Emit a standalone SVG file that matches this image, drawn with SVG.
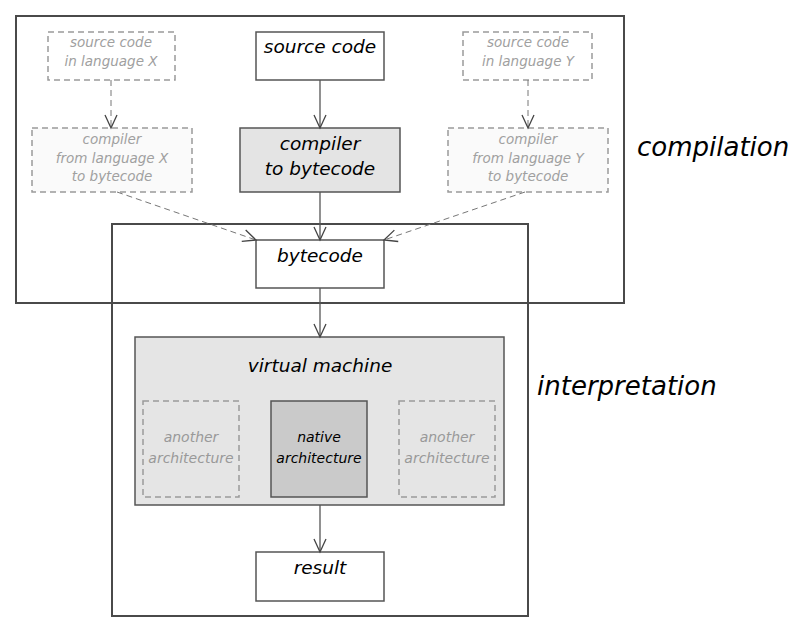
<svg xmlns="http://www.w3.org/2000/svg" width="800" height="624" viewBox="0 0 800 624">
<defs>
<marker id="arr" markerUnits="userSpaceOnUse" markerWidth="20" markerHeight="20" viewBox="-16 -10 20 20" refX="0" refY="0" orient="auto">
<path d="M-13,-6 L0,0 L-13,6" fill="none" stroke="#444" stroke-width="1.3"/>
</marker>
</defs>
<style>
text{font-family:"DejaVu Sans","Verdana",sans-serif;font-style:italic;text-anchor:middle}
.main{font-size:18.5px;fill:#000}
.gray{font-size:13.5px;fill:#a0a0a0}
.big{font-size:26px;fill:#000;text-anchor:start}
.frame{fill:none;stroke:#4a4a4a;stroke-width:2}
.box{stroke:#555;stroke-width:1.5}
.dbox{stroke:#9a9a9a;stroke-width:1.5;stroke-dasharray:6 4}
.conn{fill:none;stroke:#555;stroke-width:1.3;marker-end:url(#arr)}
.dconn{fill:none;stroke:#777;stroke-width:1;stroke-dasharray:6 4;marker-end:url(#arr)}
</style>
<g id="compilation">
<rect class="frame" x="16" y="16" width="608" height="287"/>
<text class="big" x="637" y="156">compilation</text>
</g>
<g id="interpretation">
<rect class="frame" x="112" y="224" width="416" height="392"/>
<text class="big" x="537" y="395">interpretation</text>
</g>
<g id="srcX">
<rect class="dbox" x="48" y="32" width="127" height="48" fill="#fff"/>
<text class="gray" x="111" y="47">source code</text>
<text class="gray" x="111" y="66">in language X</text>
</g>
<g id="src">
<rect class="box" x="256" y="32" width="128" height="48" fill="#fff"/>
<text class="main" x="320" y="53">source code</text>
</g>
<g id="srcY">
<rect class="dbox" x="463" y="32" width="129" height="48" fill="#fff"/>
<text class="gray" x="528" y="47">source code</text>
<text class="gray" x="528" y="66">in language Y</text>
</g>
<g id="compX">
<rect class="dbox" x="32" y="128" width="160" height="64" fill="#fafafa"/>
<text class="gray" x="112" y="144">compiler</text>
<text class="gray" x="112" y="163">from language X</text>
<text class="gray" x="112" y="181">to bytecode</text>
</g>
<g id="comp">
<rect class="box" x="240" y="128" width="160" height="64" fill="#e4e4e4"/>
<text class="main" x="320" y="150">compiler</text>
<text class="main" x="320" y="175">to bytecode</text>
</g>
<g id="compY">
<rect class="dbox" x="448" y="128" width="160" height="64" fill="#fafafa"/>
<text class="gray" x="528" y="144">compiler</text>
<text class="gray" x="528" y="163">from language Y</text>
<text class="gray" x="528" y="181">to bytecode</text>
</g>
<g id="bytecode">
<rect class="box" x="256" y="240" width="128" height="48" fill="#fff"/>
<text class="main" x="320" y="262">bytecode</text>
</g>
<g id="vm">
<rect class="box" x="135" y="337" width="369" height="168" fill="#e5e5e5"/>
<text class="main" x="320" y="372">virtual machine</text>
</g>
<g id="archL">
<rect class="dbox" x="143" y="401" width="96" height="96" fill="#e5e5e5"/>
<text class="gray" x="191" y="442" style="font-size:14px;fill:#999">another</text>
<text class="gray" x="191" y="463" style="font-size:14px;fill:#999">architecture</text>
</g>
<g id="native">
<rect class="box" x="271" y="401" width="96" height="96" fill="#cacaca"/>
<text x="319" y="442" style="font-size:14px;fill:#000">native</text>
<text x="319" y="463" style="font-size:14px;fill:#000">architecture</text>
</g>
<g id="archR">
<rect class="dbox" x="399" y="401" width="96" height="96" fill="#e5e5e5"/>
<text class="gray" x="447" y="442" style="font-size:14px;fill:#999">another</text>
<text class="gray" x="447" y="463" style="font-size:14px;fill:#999">architecture</text>
</g>
<g id="result">
<rect class="box" x="256" y="552" width="128" height="49" fill="#fff"/>
<text class="main" x="320" y="574">result</text>
</g>
<g id="connectors">
<line class="conn" x1="320" y1="80" x2="320" y2="128"/>
<line class="conn" x1="320" y1="192" x2="320" y2="240"/>
<line class="conn" x1="320" y1="288" x2="320" y2="337"/>
<line class="conn" x1="320" y1="505" x2="320" y2="552"/>
<line class="dconn" x1="111" y1="80" x2="111" y2="128"/>
<line class="dconn" x1="528" y1="80" x2="528" y2="128"/>
<line class="dconn" x1="117" y1="192" x2="256" y2="240"/>
<line class="dconn" x1="525" y1="192" x2="384" y2="240"/>
</g>
</svg>
